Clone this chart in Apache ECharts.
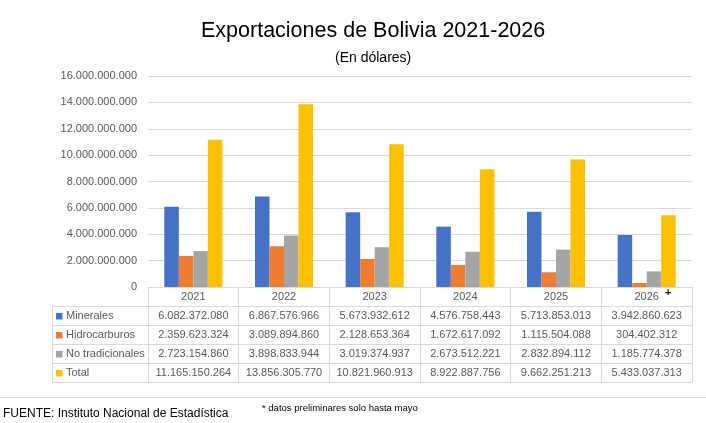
<!DOCTYPE html>
<html>
<head>
<meta charset="utf-8">
<script src="https://cdn.jsdelivr.net/npm/echarts@6/dist/echarts.min.js"></script>
<style>
  html, body { margin: 0; padding: 0; background: #fff; }
  #chart { width: 706px; height: 423px; }
</style>
</head>
<body>
<div id="chart"></div>
<script>
// datos (en dólares)
var years = ['2021', '2022', '2023', '2024', '2025', '2026'];
var minerales = [6082372080, 6867576966, 5673932612, 4576758443, 5713853013, 3942860623];
var hidrocarburos = [2359623324, 3089894860, 2128653364, 1672617092, 1115504088, 304402312];
var noTradicionales = [2723154860, 3898833944, 3019374937, 2673512221, 2832894112, 1185774378];
var total = [11165150264, 13856305770, 10821960913, 8922887756, 9662251213, 5433037313];

var seriesNames = ['Minerales', 'Hidrocarburos', 'No tradicionales', 'Total'];
var seriesData = [minerales, hidrocarburos, noTradicionales, total];
var colors = ['#4472C4', '#ED7D31', '#A5A5A5', '#FFC000'];

var FONT = '"Liberation Sans", Arial, sans-serif';
var GRID_LEFT = 148, GRID_RIGHT = 14, GRID_TOP = 76, GRID_BOTTOM = 136;
var ROW_H = 19;
var LINE = '#d9d9d9';
var TXT = '#595959';

function fmt(n) {
  return String(n).replace(/\B(?=(\d{3})+(?!\d))/g, '.');
}

var chart = echarts.init(document.getElementById('chart'));

// eje principal (años) + una fila de la tabla por serie
var xAxes = [{
  type: 'category',
  data: years,
  position: 'bottom',
  axisLine: { lineStyle: { color: LINE, width: 1 } },
  axisTick: { show: true, length: ROW_H, interval: 0, lineStyle: { color: LINE } },
  axisLabel: { interval: 0, margin: 4, color: TXT, fontSize: 11, fontFamily: FONT, verticalAlign: 'top' },
  splitLine: { show: false }
}];
seriesData.forEach(function (arr, i) {
  xAxes.push({
    type: 'category',
    data: years,
    position: 'bottom',
    offset: ROW_H * (i + 1),
    axisLine: { lineStyle: { color: LINE, width: 1 } },
    axisTick: { show: true, length: ROW_H, interval: 0, lineStyle: { color: LINE } },
    axisLabel: {
      interval: 0, margin: 4, color: TXT, fontSize: 11, fontFamily: FONT, verticalAlign: 'top',
      formatter: function (v, idx) { return fmt(arr[idx]); }
    },
    splitLine: { show: false }
  });
});
// línea inferior de la tabla
xAxes.push({
  type: 'category',
  data: years,
  position: 'bottom',
  offset: ROW_H * 5,
  axisLine: { lineStyle: { color: LINE, width: 1 } },
  axisTick: { show: false },
  axisLabel: { show: false }
});

// columna de leyenda de la tabla
var tableTop = 423 - GRID_BOTTOM;
var legendLeft = 52;
var graphics = [];
graphics.push({
  type: 'line', silent: true,
  shape: { x1: legendLeft + 0.5, y1: tableTop + ROW_H, x2: legendLeft + 0.5, y2: tableTop + ROW_H * 5 },
  style: { stroke: LINE, lineWidth: 1 }
});
for (var r = 1; r <= 5; r++) {
  graphics.push({
    type: 'line', silent: true,
    shape: { x1: legendLeft, y1: tableTop + ROW_H * r + 0.5, x2: GRID_LEFT, y2: tableTop + ROW_H * r + 0.5 },
    style: { stroke: LINE, lineWidth: 1 }
  });
}
seriesNames.forEach(function (name, i) {
  var cy = tableTop + ROW_H * (i + 1) + ROW_H / 2 + 0.5;
  graphics.push({
    type: 'rect', silent: true,
    shape: { x: 56, y: cy - 3, width: 6.5, height: 6.5 },
    style: { fill: colors[i] }
  });
  graphics.push({
    type: 'text', silent: true,
    style: { x: 66, y: cy, text: name, fill: TXT, font: '11px ' + FONT, verticalAlign: 'middle' }
  });
});
// marca de 2026
graphics.push({
  type: 'text', silent: true,
  style: { x: 665, y: 293, text: '+', fill: '#000', font: 'bold 11px ' + FONT, verticalAlign: 'middle' }
});
// separador y notas
graphics.push({
  type: 'line', silent: true,
  shape: { x1: 0, y1: 397.5, x2: 706, y2: 397.5 },
  style: { stroke: LINE, lineWidth: 1 }
});
graphics.push({
  type: 'text', silent: true,
  style: { x: 3, y: 414, text: 'FUENTE: Instituto Nacional de Estadística', fill: '#000', font: '12px ' + FONT, verticalAlign: 'middle' }
});
graphics.push({
  type: 'text', silent: true,
  style: { x: 262, y: 408, text: '* datos preliminares solo hasta mayo', fill: '#000', font: '9.5px ' + FONT, verticalAlign: 'middle' }
});

var option = {
  animation: false,
  backgroundColor: '#fff',
  title: [{
    text: 'Exportaciones de Bolivia 2021-2026',
    left: 196,
    top: 15,
    textStyle: { fontFamily: FONT, fontSize: 21.5, fontWeight: 'normal', color: '#000' }
  }, {
    text: '(En dólares)',
    left: 330,
    top: 46,
    textStyle: { fontFamily: FONT, fontSize: 14, fontWeight: 'normal', color: '#000' }
  }],
  grid: { left: GRID_LEFT, right: GRID_RIGHT, top: GRID_TOP, bottom: GRID_BOTTOM, containLabel: false },
  xAxis: xAxes,
  yAxis: {
    type: 'value',
    min: 0,
    max: 16000000000,
    interval: 2000000000,
    axisLine: { show: false },
    axisTick: { show: false },
    axisLabel: { color: TXT, fontSize: 11, fontFamily: FONT, margin: 11, formatter: function (v) { return fmt(v); } },
    splitLine: { lineStyle: { color: LINE, width: 1 } }
  },
  series: seriesNames.map(function (name, i) {
    return {
      name: name,
      type: 'bar',
      xAxisIndex: 0,
      data: seriesData[i],
      barGap: '0%',
      barCategoryGap: '36%',
      itemStyle: { color: colors[i] }
    };
  }),
  graphic: graphics
};

chart.setOption(option);
</script>
</body>
</html>
